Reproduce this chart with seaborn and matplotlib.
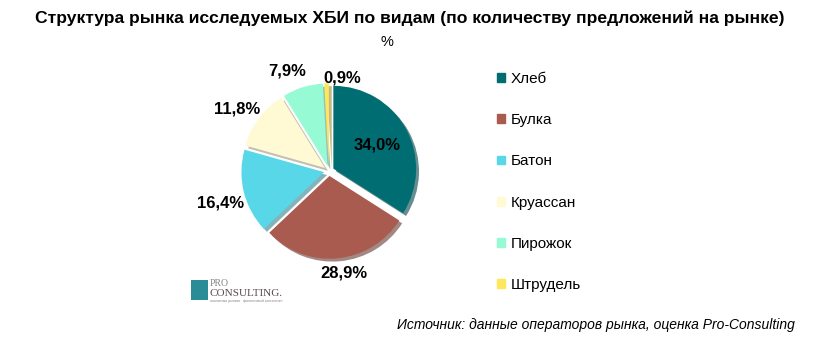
import matplotlib
matplotlib.use("Agg")
import matplotlib.pyplot as plt
import seaborn as sns
import numpy as np
from matplotlib.patches import Rectangle

categories = ["Хлеб", "Булка", "Батон", "Круассан", "Пирожок", "Штрудель"]
values = [34.0, 28.9, 16.4, 11.8, 7.9, 0.9]
labels = ["34,0%", "28,9%", "16,4%", "11,8%", "7,9%", "0,9%"]
colors = ["#006D72", "#A95B50", "#57D7E7", "#FFF9D4", "#96FAD5", "#FFE75C"]

title = "Структура рынка исследуемых ХБИ по видам (по количеству предложений на рынке)"
subtitle = "%"
source = "Источник: данные операторов рынка, оценка Pro-Consulting"

sns.set_theme(style="white")
plt.rcParams['font.family'] = ['Liberation Sans', 'DejaVu Sans']
plt.rcParams['text.color'] = 'black'

fig = plt.figure(figsize=(8.27, 3.47), dpi=100)
fig.patch.set_facecolor("white")

W, H = 827, 347
cx, cy, half = 329, 171, 120
ax = fig.add_axes([(cx - half) / W, (H - cy - half) / H, 2 * half / W, 2 * half / H])
ax.axis("off")

wedges, _ = ax.pie(values, colors=colors, startangle=90, counterclock=False,
                   explode=[0.06] * len(values), radius=1.0,
                   shadow={'ox': 0.025, 'oy': -0.025, 'shade': 0.4, 'alpha': 0.6},
                   wedgeprops=dict(linewidth=0))
lim = 1.45
ax.set_xlim(-lim, lim)
ax.set_ylim(-lim, lim)
ax.set_aspect("equal")

# label placement (style): radial distance and small nudges
dists = [0.66, 1.22, 1.33, 1.33, 1.33, 1.33]
nudge = [(0.0, 0.0), (0.06, -0.02), (-0.02, -0.07), (-0.05, -0.05), (-0.11, -0.06), (0.2, -0.2)]
for w, lab, d, (ex, ey) in zip(wedges, labels, dists, nudge):
    ang = np.deg2rad((w.theta1 + w.theta2) / 2)
    x = d * np.cos(ang) + ex
    y = d * np.sin(ang) + ey
    ax.text(x, y, lab, ha="center", va="center", fontsize=12, fontweight="bold", color="black")

handles = [Rectangle((0, 0), 1, 1, color=c) for c in colors]
fig.legend(handles, categories, loc="upper left", bbox_to_anchor=(497 / W, 1 - 72 / H),
           frameon=False, fontsize=11, handlelength=0.5, handleheight=0.5,
           handletextpad=0.4, labelspacing=1.78, borderaxespad=0, borderpad=0,
           labelcolor="black")

fig.text(410 / W, 1 - 18 / H, title, ha="center", va="center", fontsize=12.6, fontweight="bold")
fig.text(387 / W, 1 - 42 / H, subtitle, ha="center", va="center", fontsize=10.5)
fig.text(795 / W, 1 - 325 / H, source, ha="right", va="center", fontsize=10, style="italic")

# logo
fig.patches.append(Rectangle((191 / W, 1 - 300 / H), 17 / W, 20 / H, transform=fig.transFigure,
                             facecolor="#2A8C97", edgecolor="none"))
fig.text(210 / W, 1 - 284 / H, "PRO", fontsize=7, family="Liberation Serif", color="#888888", va="center")
fig.text(210 / W, 1 - 294 / H, "CONSULTING.", fontsize=8, family="Liberation Serif", color="#5A4A4A", va="center")
fig.text(210 / W, 1 - 301 / H, "аналитика рынков · финансовый консалтинг", fontsize=2.5, color="#888888", va="center")

fig.savefig("out.png", dpi=100, facecolor="white")
